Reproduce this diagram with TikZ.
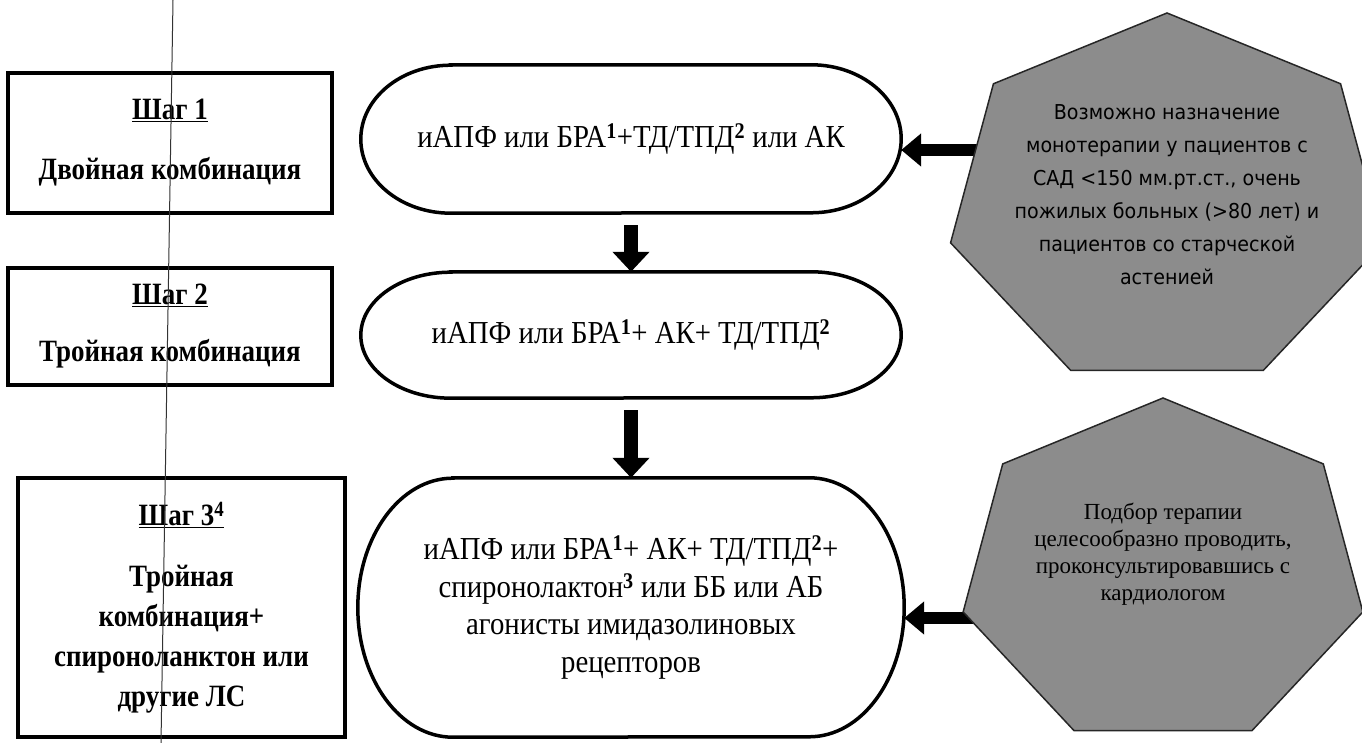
\documentclass[tikz,border=0pt]{standalone}
\usepackage{fontspec}
\setmainfont{Liberation Serif}
\newfontfamily\hepsans[FakeStretch=0.93]{DejaVu Sans}
\newfontfamily\pillfont[FakeStretch=0.9]{Liberation Serif}
\newfontfamily\boxfont[FakeStretch=0.87]{Liberation Serif}
\usetikzlibrary{arrows.meta,calc}
\definecolor{hepgray}{HTML}{8C8C8C}
\tikzset{
  stepbox/.style={draw, line width=4pt, rectangle, align=center, inner sep=0pt,
    font=\boxfont\bfseries\fontsize{31}{40}\selectfont},
  pilltext/.style={rectangle, align=center, inner sep=0pt,
    font=\pillfont\fontsize{32}{37.5}\selectfont},
  pillline/.style={line width=3.5pt},
  hep/.style={fill=hepgray, draw=black!85, line width=1.5pt},
  heptextA/.style={align=center, inner sep=0pt, text=black,
    font=\hepsans\fontsize{20.5}{33}\selectfont},
  heptextB/.style={align=center, inner sep=0pt, text=black,
    font=\fontsize{23}{27}\selectfont},
  bigdown/.style={line width=14pt, -{Triangle[length=20pt,width=36pt]}},
  bigleft/.style={line width=12pt, -{Triangle[length=20pt,width=32pt]}},
}
\newcommand\mypill[3]{%
  \draw[pillline] ([xshift=#2]#1.north west) -- ([xshift=-#2]#1.north east)
    arc[start angle=90,end angle=-90,x radius=#2,y radius=#3]
    -- ([xshift=#2]#1.south west)
    arc[start angle=270,end angle=90,x radius=#2,y radius=#3] -- cycle;}
\begin{document}
\begin{tikzpicture}[x=1pt,y=1pt]
\useasboundingbox (0,0) rectangle (1362,743);
\fill[white] (0,0) rectangle (1362,743);

% step boxes
\node[stepbox, minimum width=324pt, minimum height=140pt] (s1) at (170,600)
  {\underline{Шаг 1}\\[20pt]Двойная комбинация};
\node[stepbox, minimum width=324pt, minimum height=117pt] (s2) at (170,416.5)
  {\underline{Шаг 2}\\[17pt]Тройная комбинация};
\node[stepbox, minimum width=327pt, minimum height=259pt] (s3) at (181.5,135.5)
  {\underline{Шаг 3\textsuperscript{4}}\\[21pt]Тройная\\комбинация+\\спироноланктон или\\другие ЛС};

% pills
\node[pilltext, minimum width=540pt, minimum height=148pt] (p1) at (631,604)
  {иАПФ или БРА\textsuperscript{\bfseries 1}+ТД/ТПД\textsuperscript{\bfseries 2} или АК};
\node[pilltext, minimum width=540pt, minimum height=126pt] (p2) at (631,408)
  {иАПФ или БРА\textsuperscript{\bfseries 1}+ АК+ ТД/ТПД\textsuperscript{\bfseries 2}};
\node[pilltext, minimum width=546pt, minimum height=259pt] (p3) at (631,135.5)
  {иАПФ или БРА\textsuperscript{\bfseries 1}+ АК+ ТД/ТПД\textsuperscript{\bfseries 2}+\\
   спиронолактон\textsuperscript{\bfseries 3} или ББ или АБ\\агонисты имидазолиновых\\рецепторов};
\mypill{p1}{90pt}{74pt}
\mypill{p2}{90pt}{63pt}
\mypill{p3}{95pt}{129.5pt}

% down arrows
\draw[bigdown, shorten <=12pt] (p1.south) -- (p2.north);
\draw[bigdown, shorten <=12pt] (p2.south) -- (p3.north);

% side arrows (start inside the heptagons)
\coordinate (a1s) at (995,593);
\coordinate (a2s) at (985,125);
\draw[bigleft] (a1s) -- (a1s -| p1.east);
\draw[bigleft] (a2s) -- (a2s -| p3.east);

% heptagons
\coordinate (h1c) at (1167,542);
\coordinate (h2c) at (1163,170);
\begin{scope}[shift={(h1c)}]
  \draw[hep] (90:222pt and 188pt) \foreach \a in {1,...,6}{ -- ({90+\a*360/7}:222pt and 188pt)} -- cycle;
\end{scope}
\begin{scope}[shift={(h2c)}]
  \draw[hep] (90:205pt and 175pt) \foreach \a in {1,...,6}{ -- ({90+\a*360/7}:205pt and 175pt)} -- cycle;
\end{scope}
\node[heptextA] (h1) at (1167,548)
  {Возможно назначение\\монотерапии у пациентов с\\САД <150 мм.рт.ст., очень\\пожилых больных (>80 лет) и\\пациентов со старческой\\астенией};
\node[heptextB] (h2) at (1163,189)
  {Подбор терапии\\целесообразно проводить,\\проконсультировавшись с\\кардиологом};

% scan line
\draw[line width=1pt, black!80] (173,743) -- (161,0);
\end{tikzpicture}
\end{document}
